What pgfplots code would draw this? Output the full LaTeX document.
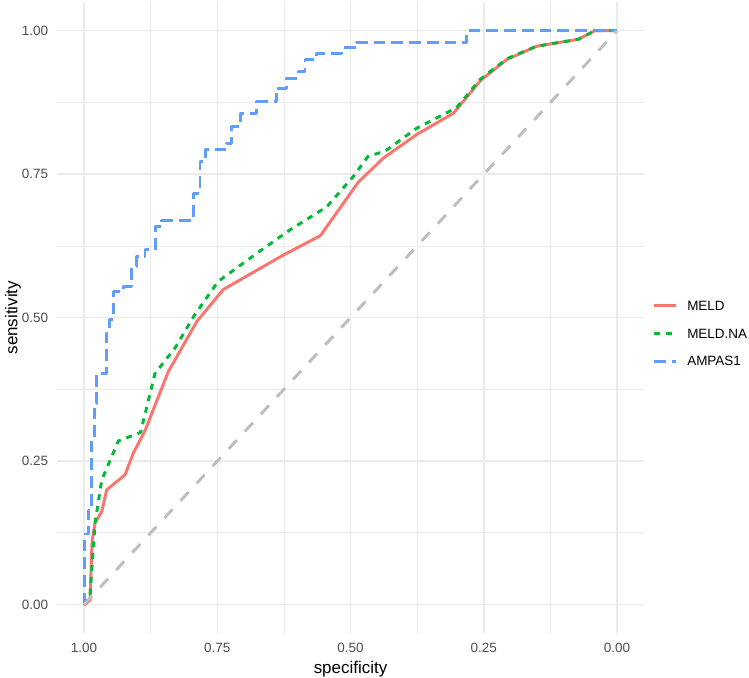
\documentclass[border=0pt]{standalone}
\usepackage{fontspec}
\setmainfont{Liberation Sans}
\usepackage{pgfplots}
\pgfplotsset{compat=1.18}
\usetikzlibrary{calc}

\definecolor{meld}{HTML}{F8766D}
\definecolor{meldna}{HTML}{00BA38}
\definecolor{ampas}{HTML}{619CFF}
\definecolor{diag}{HTML}{BEBEBE}
\definecolor{gridc}{HTML}{EBEBEB}
\definecolor{ticklab}{HTML}{4D4D4D}

\begin{document}
\begin{tikzpicture}
\begin{axis}[
    scale only axis,
    width=421.8bp,
    height=454.2bp,
    x dir=reverse,
    xmin=-0.05, xmax=1.05,
    ymin=-0.05, ymax=1.05,
    axis line style={draw=none},
    major tick length=0pt,
    minor tick length=0pt,
    xtick={0,0.25,0.5,0.75,1},
    xticklabels={0.00,0.25,0.50,0.75,1.00},
    ytick={0,0.25,0.5,0.75,1},
    yticklabels={0.00,0.25,0.50,0.75,1.00},
    minor x tick num=1,
    minor y tick num=1,
    grid=both,
    major grid style={gridc, line width=1.07bp},
    minor grid style={gridc, line width=0.53bp},
    xticklabel style={font=\fontsize{9.7bp}{11bp}\selectfont, text=ticklab, inner sep=0pt, anchor=north, yshift=-7.0bp},
    yticklabel style={font=\fontsize{9.7bp}{11bp}\selectfont, text=ticklab, inner sep=0pt, anchor=east, xshift=-6.5bp},
    xlabel={specificity},
    ylabel={sensitivity},
    xlabel style={font=\fontsize{12.2bp}{14bp}\selectfont, at={(axis description cs:0.5,-0.0570)}, anchor=center},
    ylabel style={font=\fontsize{12.2bp}{14bp}\selectfont, at={(axis description cs:-0.0756,0.5)}, anchor=center},
    legend image code/.code={\draw[#1, line cap=butt] (0bp,3.4bp) -- (15.8bp,3.4bp);},
    legend style={at={(axis description cs:1.0153,0.5337)}, anchor=north west,
        draw=none, fill=none, inner sep=0pt, outer sep=0pt,
        font=\fontsize{9.7bp}{11bp}\selectfont,
        nodes={inner sep=0pt, text height=10bp, text depth=10bp},
        column sep=7bp, row sep=0pt},
    legend cell align=left,
    every axis plot/.append style={line width=2.13bp, line join=round, line cap=butt},
]
% MELD
\addplot[meld] coordinates {
(1.0000,0) (0.9981,0) (0.9887,0.008) (0.9850,0.110) (0.9794,0.142) (0.9668,0.162)
(0.9574,0.200) (0.9231,0.226) (0.9075,0.264) (0.8856,0.303) (0.8418,0.406) (0.7886,0.493)
(0.7387,0.549) (0.6261,0.609) (0.5563,0.643) (0.4854,0.736) (0.4385,0.778) (0.3743,0.820)
(0.3071,0.856) (0.2552,0.914) (0.2064,0.950) (0.1507,0.973) (0.0726,0.985) (0.0413,1.000)
(0,1.000)};
\addlegendentry{MELD}
% MELD.NA
\addplot[meldna, dash pattern=on 4.27bp off 4.27bp] coordinates {
(1.0000,0) (0.9949,0.011) (0.9887,0.017) (0.9794,0.142) (0.9668,0.217) (0.9356,0.285)
(0.8940,0.300) (0.8668,0.403) (0.8293,0.447) (0.7936,0.503) (0.7486,0.563) (0.6760,0.612)
(0.6135,0.653) (0.5447,0.693) (0.4947,0.746) (0.4672,0.781) (0.4353,0.790) (0.3758,0.830)
(0.3008,0.866) (0.2570,0.915) (0.2069,0.951) (0.1507,0.973) (0.0726,0.985) (0.0413,1.000)
(0,1.000)};
\addlegendentry{MELD.NA}
% AMPAS1
\addplot[ampas, dash pattern=on 8.5bp off 4.27bp] coordinates {
(1.0000,0) (1.0000,0.123) (0.9916,0.123) (0.9916,0.164) (0.9859,0.164) (0.9859,0.290)
(0.9812,0.290) (0.9812,0.350) (0.9762,0.350) (0.9762,0.403) (0.9574,0.403) (0.9574,0.473)
(0.9531,0.473) (0.9531,0.496) (0.9450,0.496) (0.9450,0.545) (0.9268,0.545) (0.9268,0.555)
(0.9105,0.555) (0.9105,0.589) (0.9011,0.589) (0.9011,0.606) (0.8856,0.606) (0.8856,0.618)
(0.8668,0.618) (0.8668,0.659) (0.8542,0.659) (0.8542,0.669) (0.7949,0.669) (0.7949,0.717)
(0.7824,0.717) (0.7824,0.772) (0.7730,0.772) (0.7730,0.793) (0.7323,0.793) (0.7323,0.804)
(0.7229,0.804) (0.7229,0.833) (0.7073,0.833) (0.7073,0.855) (0.6760,0.855) (0.6760,0.876)
(0.6385,0.876) (0.6385,0.900) (0.6197,0.900) (0.6197,0.917) (0.5979,0.917) (0.5979,0.929)
(0.5854,0.929) (0.5854,0.949) (0.5635,0.949) (0.5635,0.961) (0.5165,0.961) (0.5165,0.970)
(0.4884,0.970) (0.4884,0.980) (0.2820,0.980) (0.2820,1.000) (0,1.000)};
\addlegendentry{AMPAS1}
% chance line
\addplot[diag, dash pattern=on 8.5bp off 8.5bp, forget plot] coordinates {(1,0) (0,1)};
\end{axis}
\pgfresetboundingbox
\path ($(current axis.south west)+(-41.3bp,-32.1bp)$) rectangle ($(current axis.north east)+(75.8bp,1.44bp)$);
\end{tikzpicture}
\end{document}
